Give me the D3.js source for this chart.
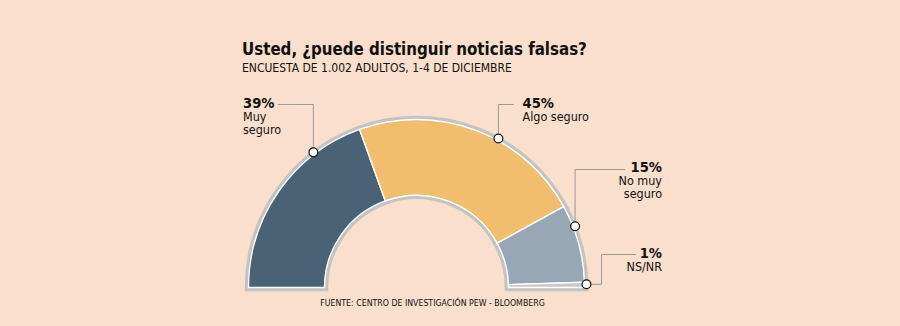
<!DOCTYPE html>
<html><head><meta charset="utf-8">
<script src="https://cdn.jsdelivr.net/npm/d3@7"></script>
<style>html,body{margin:0;padding:0;background:#f9dfcc;} svg{display:block}</style>
</head><body><svg id="c" width="900" height="326"></svg>
<script>
// ---- data ----
const categories = ["Muy seguro", "Algo seguro", "No muy seguro", "NS/NR"];
const values = [39, 45, 15, 1];
const labelLines = [["Muy", "seguro"], ["Algo seguro"], ["No muy", "seguro"], ["NS/NR"]];
const titleText = "Usted, ¿puede distinguir noticias falsas?";
const subtitleText = "ENCUESTA DE 1.002 ADULTOS, 1-4 DE DICIEMBRE";
const sourceText = "FUENTE: CENTRO DE INVESTIGACIÓN PEW - BLOOMBERG";

// ---- style / layout ----
const colors = ["#4a6276", "#f0be6e", "#97a7b6", "#c8c8c8"];
const borderColor = "#c3c3c3";
const FONT = "'DejaVu Sans Condensed', 'Liberation Sans', Arial, sans-serif";
const cx = 416.5, cy = 287.5, rIn = 92, rOut = 168, rDot = 170;
const dotFrac = [0.75, 0.6, 0.285, 0.4];
const labelLayout = [
  {anchor: "start", tx: 243, ty: 107.5, route: d => [[d.x, d.y], [d.x, 104.5], [278, 104.5]]},
  {anchor: "start", tx: 522.5, ty: 107.5, route: d => [[d.x, d.y], [d.x, 104.5], [514, 104.5]]},
  {anchor: "end", tx: 662, ty: 172, route: d => [[d.x, d.y], [d.x, 169.5], [625, 169.5]]},
  {anchor: "end", tx: 662, ty: 258, route: d => [[d.x, d.y], [601.5, d.y], [601.5, 254.5], [636, 254.5]]}
];

const svg = d3.select("#c");
svg.append("rect").attr("width", 900).attr("height", 326).attr("fill", "#f9dfcc");

function fitWidth(sel, target) {
  const w = sel.node().getComputedTextLength();
  const fs = parseFloat(sel.attr("font-size"));
  sel.attr("font-size", fs * target / w);
  return fs * target / w;
}

// title
const t = svg.append("text").attr("x", 242).attr("y", 55).attr("font-family", FONT)
  .attr("font-weight", "bold").attr("font-size", 18).attr("fill", "#111").text(titleText);
fitWidth(t, 345);
const st = svg.append("text").attr("x", 242).attr("y", 72).attr("font-family", FONT)
  .attr("font-size", 12).attr("fill", "#111").text(subtitleText);
fitWidth(st, 270);

// arcs
const pie = d3.pie().sort(null).value(d => d).startAngle(-Math.PI / 2).endAngle(Math.PI / 2);
const arcs = pie(values);
const arc = d3.arc().innerRadius(rIn).outerRadius(rOut);
const g = svg.append("g").attr("transform", `translate(${cx},${cy})`);
g.selectAll("path.border").data(arcs).join("path").attr("class", "border")
  .attr("d", arc).attr("fill", borderColor).attr("stroke", borderColor)
  .attr("stroke-width", 7.5).attr("stroke-linejoin", "miter");
g.selectAll("path.seg").data(arcs).join("path").attr("class", "seg")
  .attr("d", arc).attr("fill", (d, i) => colors[i]).attr("stroke", "#ffffff")
  .attr("stroke-width", 1.4);

// dots and leaders
const dots = arcs.map((a, i) => {
  const ang = a.startAngle + dotFrac[i] * (a.endAngle - a.startAngle);
  return {x: cx + rDot * Math.sin(ang), y: cy - rDot * Math.cos(ang)};
});
const line = d3.line();
labelLayout.forEach((L, i) => {
  svg.append("path").attr("d", line(L.route(dots[i]))).attr("fill", "none")
    .attr("stroke", "#9a9a9a").attr("stroke-width", 1);
});
svg.selectAll("circle.dot").data(dots).join("circle").attr("class", "dot")
  .attr("cx", d => d.x).attr("cy", d => d.y).attr("r", 4.4)
  .attr("fill", "#fff").attr("stroke", "#111").attr("stroke-width", 1.2);

// label font sizes fitted
const probe = svg.append("text").attr("font-family", FONT).attr("font-size", 13).text(labelLines[1][0]);
const labelFs = fitWidth(probe, 66.5); probe.remove();
const probeB = svg.append("text").attr("font-family", FONT).attr("font-weight", "bold").attr("font-size", 13).text(values[1] + "%");
const pctFs = fitWidth(probeB, 31.5); probeB.remove();

labelLayout.forEach((L, i) => {
  const tx = svg.append("text").attr("text-anchor", L.anchor).attr("font-family", FONT).attr("fill", "#111");
  tx.append("tspan").attr("x", L.tx).attr("y", L.ty).attr("font-weight", "bold")
    .attr("font-size", pctFs).text(values[i] + "%");
  labelLines[i].forEach((s, j) => {
    tx.append("tspan").attr("x", L.tx).attr("y", L.ty + 13 * (j + 1))
      .attr("font-size", labelFs).text(s);
  });
});

// source
const so = svg.append("text").attr("x", 432.5).attr("y", 306).attr("text-anchor", "middle")
  .attr("font-family", FONT).attr("font-size", 10).attr("fill", "#111").text(sourceText);
fitWidth(so, 225);
</script></body></html>
